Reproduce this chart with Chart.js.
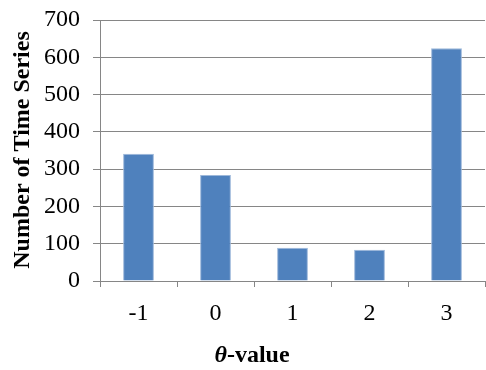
<!DOCTYPE html>
<html>
<head>
<meta charset="utf-8">
<script src="https://cdn.jsdelivr.net/npm/chart.js@4/dist/chart.umd.min.js"></script>
<style>
  html, body { margin: 0; padding: 0; background: #fff; }
  #wrap { width: 486px; height: 370px; }
</style>
</head>
<body>
<div id="wrap"><canvas id="chartcontainer"></canvas></div>
<script>
// values
var thetaValues = ["-1", "0", "1", "2", "3"];
var seriesCounts = [341, 284, 89, 84, 624];
var yTicks = [0, 100, 200, 300, 400, 500, 600, 700];

var serif = "'Liberation Serif', 'Times New Roman', serif";

// draws the two axis titles (x title mixes italic theta and bold text)
var axisTitles = {
    id: 'axisTitles',
    afterDraw: function(chart) {
        var ctx = chart.ctx;
        ctx.save();
        ctx.fillStyle = '#000';
        ctx.textBaseline = 'middle';
        // x title
        var part1 = 'θ', part2 = '-value';
        ctx.font = 'italic bold 24px ' + serif;
        var w1 = ctx.measureText(part1).width;
        ctx.font = 'bold 24px ' + serif;
        var w2 = ctx.measureText(part2).width;
        var x0 = 252 - (w1 + w2) / 2;
        ctx.textAlign = 'left';
        ctx.font = 'italic bold 24px ' + serif;
        ctx.fillText(part1, x0, 356);
        ctx.font = 'bold 24px ' + serif;
        ctx.fillText(part2, x0 + w1, 356);
        // y title
        ctx.translate(23, 150);
        ctx.rotate(-Math.PI / 2);
        ctx.textAlign = 'center';
        ctx.fillText('Number of Time Series', 0, 0);
        ctx.restore();
    }
};

var ctx = document.getElementById('chartcontainer').getContext('2d');
var chart = new Chart(ctx, {
    type: 'bar',
    data: {
        labels: thetaValues,
        datasets: [{
            data: seriesCounts,
            backgroundColor: '#4F81BD',
            borderColor: '#9db8da',
            borderWidth: 1,
            barPercentage: 0.4,
            categoryPercentage: 1.0
        }]
    },
    options: {
        responsive: true,
        maintainAspectRatio: false,
        animation: false,
        layout: { padding: { top: 20, right: 1, left: 0, bottom: 0 } },
        plugins: {
            legend: { display: false },
            title: { display: false },
            tooltip: { enabled: false }
        },
        scales: {
            x: {
                afterFit: function(s) {
                    s.height = 89;
                    s.paddingLeft = 0;
                    s.paddingRight = 0;
                },
                grid: {
                    drawOnChartArea: false,
                    drawTicks: true,
                    tickLength: 6,
                    color: '#868686'
                },
                border: { color: '#868686', width: 1 },
                ticks: {
                    color: '#000',
                    padding: 12,
                    font: { family: serif, size: 24 }
                }
            },
            y: {
                min: 0,
                max: 700,
                afterFit: function(s) {
                    s.width = 100;
                    s.paddingTop = 0;
                    s.paddingBottom = 0;
                },
                afterBuildTicks: function(s) {
                    s.ticks = yTicks.map(function(v) { return { value: v }; });
                },
                grid: {
                    color: '#868686',
                    tickLength: 7
                },
                border: { color: '#868686', width: 1 },
                ticks: {
                    color: '#000',
                    padding: 13,
                    font: { family: serif, size: 24 }
                }
            }
        }
    },
    plugins: [axisTitles]
});
</script>
</body>
</html>
